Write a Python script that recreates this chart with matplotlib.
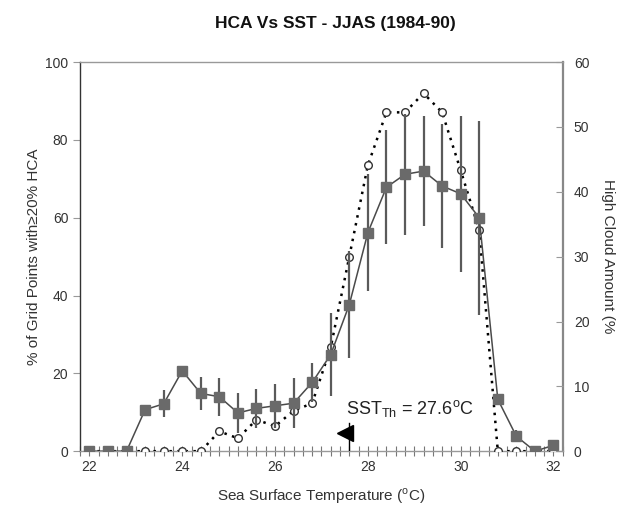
import matplotlib

matplotlib.use("Agg")

import matplotlib.pyplot as plt
import numpy as np
from matplotlib.ticker import MultipleLocator

plt.rcParams["font.family"] = ["Liberation Sans", "DejaVu Sans"]

# SST bins (deg C), one every 0.4
sst = [22.0, 22.4, 22.8, 23.2, 23.6, 24.0, 24.4, 24.8, 25.2, 25.6, 26.0, 26.4, 26.8,
       27.2, 27.6, 28.0, 28.4, 28.8, 29.2, 29.6, 30.0, 30.4, 30.8, 31.2, 31.6, 32.0]

# % of grid points with >=20% HCA (left axis, open circles, dotted)
pct_grid = [0, 0, 0, 0, 0, 0, 0, 5.1, 3.3, 8.1, 6.4, 10.4, 12.3,
            26.7, 50.0, 73.5, 87.1, 87.1, 92.0, 87.1, 72.2, 56.8, 0, 0, 0, 0]

# mean high cloud amount (right axis, squares) and its spread
hca_mean = [0, 0, 0, 6.4, 7.3, 12.4, 8.9, 8.4, 5.9, 6.6, 7.0, 7.4, 10.6,
            14.9, 22.6, 33.7, 40.7, 42.7, 43.2, 40.9, 39.7, 36.0, 8.0, 2.3, 0, 0.9]
hca_err = [0, 0, 0, 0, 2.1, 0, 2.5, 2.9, 3.1, 3.0, 3.4, 3.9, 3.0,
           6.4, 8.2, 9.0, 8.8, 9.3, 8.5, 9.5, 12.0, 15.0, 0, 0.9, 0, 0]

sst_th = 27.6

fig = plt.figure(figsize=(6.26, 5.18), dpi=100)
ax = fig.add_axes([0.128, 0.129, 0.771, 0.751])
ax2 = ax.twinx()

ax.plot(sst, pct_grid, color="black", linestyle=(0, (1, 2.2)), linewidth=1.8,
        marker="o", markersize=5.5, markerfacecolor="white", markeredgecolor="#333333",
        markeredgewidth=1.0, zorder=3)

ax2.errorbar(sst, hca_mean, yerr=hca_err, color="#4a4a4a", linewidth=1.1,
             ecolor="#5a5a5a", elinewidth=1.6, capsize=0,
             marker="s", markersize=6.5, markerfacecolor="#6a6a6a",
             markeredgecolor="#6a6a6a", zorder=3)

# threshold marker
ax.plot([sst_th, sst_th], [0, 7.2], color="black", linewidth=1.0, zorder=4)
ax.plot([sst_th - 0.1], [4.6], marker="<", markersize=11, color="black", zorder=4)
ax.text(sst_th - 0.08, 9.6, "SST$_{\\mathregular{Th}}$ = 27.6$^{\\mathregular{o}}$C",
        fontsize=13, color="#222222", ha="left", va="baseline")

ax.set_xlim(21.8, 32.2)
ax.set_ylim(0, 100)
ax2.set_ylim(0, 60)
ax.xaxis.set_major_locator(MultipleLocator(2))
ax.xaxis.set_minor_locator(MultipleLocator(0.2))
ax.yaxis.set_major_locator(MultipleLocator(20))
ax2.yaxis.set_major_locator(MultipleLocator(10))

ax.tick_params(axis="x", which="both", direction="inout", length=7, width=0.8,
               color="#777777", labelsize=10, labelcolor="#333333", pad=3)
ax.tick_params(axis="y", direction="out", length=5, width=0.8, color="#999999",
               labelsize=10, labelcolor="#333333")
ax2.tick_params(axis="y", direction="in", length=5, width=0.8, color="#999999",
                labelsize=10, labelcolor="#333333", pad=8)

for name, sp in ax.spines.items():
    sp.set_color("#999999")
    sp.set_linewidth(1.0)
ax.spines["left"].set_color("#333333")
for name, sp in ax2.spines.items():
    sp.set_visible(False)
ax.spines["right"].set_color("#888888")
ax.spines["right"].set_linewidth(1.6)

ax.set_xlabel("Sea Surface Temperature ($^{\\mathregular{o}}$C)", fontsize=11,
              color="#333333", labelpad=9)
ax.set_ylabel("% of Grid Points with\u226520% HCA", fontsize=11, color="#333333",
              labelpad=3)
ax2.set_ylabel("High Cloud Amount (%", fontsize=11, color="#333333", rotation=-90,
               labelpad=18)

fig.text(0.535, 0.955, "HCA Vs SST - JJAS (1984-90)", fontsize=12.5,
         fontweight="bold", ha="center", va="center", color="#111111")

fig.savefig("out.png", dpi=100)
